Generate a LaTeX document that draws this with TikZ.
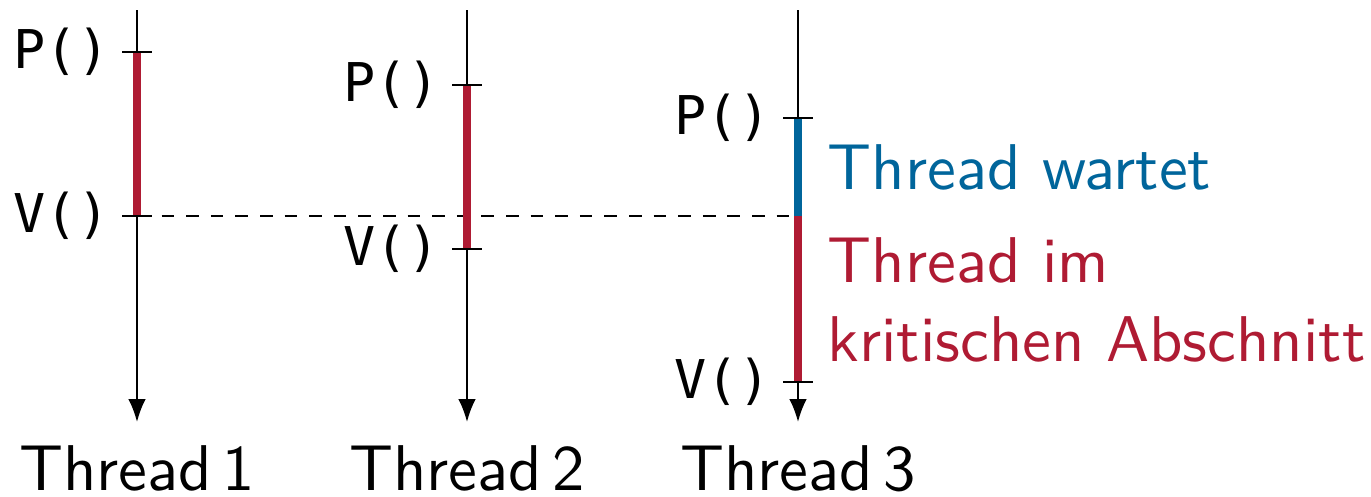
\documentclass[tikz,border=0pt]{standalone}
\usepackage{fontspec}
\newfontfamily\callfont{DejaVu Sans Mono}
\newfontfamily\labelfont{lmsans10-regular.otf}
\usepackage{tikz}
\usetikzlibrary{arrows.meta}
\definecolor{critred}{RGB}{175,27,51}
\definecolor{waitblue}{RGB}{0,101,155}

\begin{document}
\begin{tikzpicture}[
    timeline/.style={line width=0.6pt, -{Latex[length=6.5pt,width=5pt]}},
    tickmark/.style={line width=0.6pt},
    bar/.style={line width=2.3pt},
    call/.style={anchor=east, font=\callfont\fontsize{15.2}{17}\selectfont},
    threadname/.style={anchor=base, inner sep=0pt, font=\labelfont\fontsize{18.4}{22.5}\selectfont},
    legend/.style={anchor=north west, inner sep=0pt, align=left,
      font=\labelfont\fontsize{18.4}{22.5}\selectfont}
  ]
  \useasboundingbox (0,0) rectangle (13.71,-4.96);
  % Thread 1
  \coordinate (t1) at (1.37,-0.10);
  \coordinate (b1) at (1.37,-4.22);
  \coordinate (p1) at (1.37,-0.52);
  \coordinate (v1) at (1.37,-2.16);
  % Thread 2
  \coordinate (t2) at (4.67,-0.10);
  \coordinate (b2) at (4.67,-4.22);
  \coordinate (p2) at (4.67,-0.85);
  \coordinate (v2) at (4.67,-2.49);
  % Thread 3
  \coordinate (t3) at (7.98,-0.10);
  \coordinate (b3) at (7.98,-4.22);
  \coordinate (p3) at (7.98,-1.18);
  \coordinate (w3) at (7.98,-2.16);
  \coordinate (v3) at (7.98,-3.82);

  % Time lines
  \draw[timeline] (t1) -- (b1);
  \draw[timeline] (t2) -- (b2);
  \draw[timeline] (t3) -- (b3);
  % Dashed release line
  \draw[line width=0.6pt, dash pattern=on 3.6pt off 3.4pt] (v1) -- (w3);

  % Bars
  \draw[bar, critred] (p1) -- (v1);
  \draw[bar, critred] (p2) -- (v2);
  \draw[bar, waitblue] (p3) -- (w3);
  \draw[bar, critred] (w3) -- (v3);

  % Ticks
  \foreach \c in {p1,v1,p2,v2,p3,v3}
    \draw[tickmark] ([xshift=-0.15cm]\c) -- ([xshift=0.15cm]\c);

  % Calls
  \node[call] (p1l) at ([xshift=-0.15cm]p1) {P()};
  \node[call] (v1l) at ([xshift=-0.15cm]v1) {V()};
  \node[call] (p2l) at ([xshift=-0.15cm]p2) {P()};
  \node[call] (v2l) at ([xshift=-0.15cm]v2) {V()};
  \node[call] (p3l) at ([xshift=-0.15cm]p3) {P()};
  \node[call] (v3l) at ([xshift=-0.15cm]v3) {V()};

  % Thread names
  \node[threadname] (n1) at (1.37,-4.90) {Thread\,1};
  \node[threadname] (n2) at (4.67,-4.90) {Thread\,2};
  \node[threadname] (n3) at (7.98,-4.90) {Thread\,3};

  % Legend
  \node[legend, text=waitblue] (wait) at (8.27,-1.44) {Thread wartet};
  \node[legend, text=critred] (crit) at (8.27,-2.37) {Thread im\\kritischen Abschnitt};
\end{tikzpicture}
\end{document}
